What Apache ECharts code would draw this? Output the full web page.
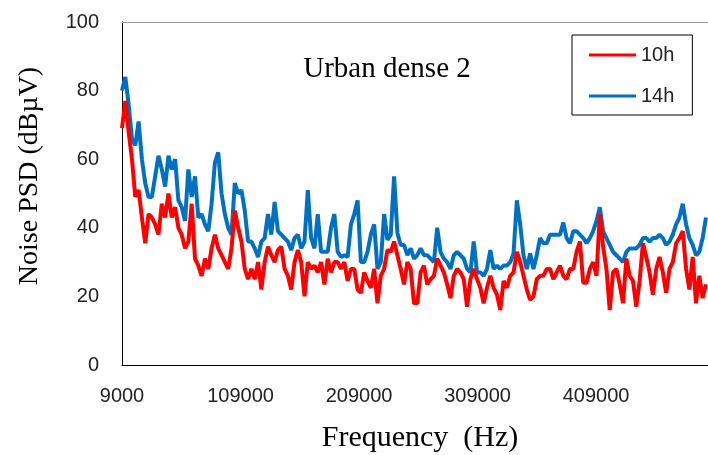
<!DOCTYPE html>
<html>
<head>
<meta charset="utf-8">
<script src="https://cdn.jsdelivr.net/npm/echarts@6/dist/echarts.min.js"></script>
<style>html,body{margin:0;padding:0;background:#fff;}#c{width:708px;height:455px;}</style>
</head>
<body>
<div id="c"></div>
<script>
// Sampling grid of the spectrum (Hz)
const FREQ_START = 9000;
const FREQ_STEP = 2800;
const X_TICK_STEP = 100000;
const Y_TICKS = [0, 20, 40, 60, 80, 100];
const seriesNames = ['10h', '14h'];
const chartTitle = 'Urban dense 2';

// Noise PSD (dBµV), 10h
const noise10h = [
  69, 77, 68, 60, 49, 51, 43, 35.5, 44, 43, 41, 38, 47, 43, 50, 43, 46, 40, 38, 34, 36, 47, 31, 29, 26, 31, 28, 34, 38, 34, 32, 30, 28, 34, 45, 40,
  36, 28, 25, 28, 25, 30, 22, 30, 34.5, 32, 30, 33.5, 34.5, 28, 26, 22, 30, 33.5, 30, 20, 30, 28, 29, 27, 30, 23.5, 31, 27, 30, 30, 28, 30, 24.5, 28, 28, 22,
  21, 27, 24.5, 22.5, 28, 18, 26, 28, 33.5, 33, 36, 32, 28, 23.5, 30, 28, 18, 18, 27, 29, 23.5, 25, 26, 31, 29, 27, 23.5, 19.5, 26, 28, 27, 25, 17, 25, 28, 25,
  22.5, 18, 22.5, 26, 22.5, 20.5, 16, 24.5, 22.5, 26, 27, 33, 30, 26, 22, 19, 20, 25, 26, 26, 28, 28, 25, 27, 29, 26, 25, 28, 28, 33, 36, 24, 24, 28, 30,
  26, 44, 34.5, 28, 16, 27, 28, 23.5, 18, 31, 26, 24.5, 17, 24.5, 35.5, 31.5, 27, 20.5, 28, 31.5, 27, 21, 28, 30, 35.5, 37, 39, 28, 22, 31.5, 18, 26, 19.5, 23.5
];

// Noise PSD (dBµV), 14h
const noise14h = [
  80, 84, 76, 66, 64, 71, 60, 53, 49, 49, 55, 61, 57, 52, 61, 57, 60, 48, 46, 42, 57, 49, 55, 43, 44, 41, 39, 47, 59, 62, 50, 44, 40, 38, 53, 50,
  51, 45, 36, 36, 34, 31.5, 36, 37, 44, 38, 47.5, 39, 38, 37, 36, 33.5, 37, 38, 34, 36, 51, 37, 34, 44, 33, 33, 33, 40, 44, 33, 31.5, 32, 31.5, 41, 44, 48,
  30, 30, 33, 38, 41, 28, 30, 44, 36.5, 38, 55, 38.5, 35, 35, 32, 34, 31, 32, 34, 32, 32, 31, 30, 40, 33, 31, 30, 28, 32, 33, 32, 31, 28, 27, 36, 27,
  27, 26, 28, 33.5, 28, 29, 28, 29, 29, 30, 32.5, 48, 41, 32, 28, 32.5, 28, 32, 37, 35.5, 35.5, 38, 38, 38, 38, 41.5, 37, 35.5, 39, 39, 38, 37, 35.5, 37, 39,
  42, 46, 39, 37, 35, 33, 32, 31, 30, 33, 34, 34, 34, 35, 37, 37, 36, 37, 37, 38, 37, 35, 36, 38, 41, 43, 47, 41, 37, 35, 32, 33, 37, 43
];

const freqs = noise10h.map((_, i) => FREQ_START + i * FREQ_STEP);
const X_MAX_OFFSET = 494500; // right edge of plot, offset from FREQ_START

const toPairs = arr => arr.map((v, i) => [freqs[i] - FREQ_START, v]);

const chart = echarts.init(document.getElementById('c'), null, {renderer: 'canvas'});
const tickFont = {fontFamily: 'Liberation Sans', fontSize: 20, color: '#222'};
const serif = 'Liberation Serif';

chart.setOption({
  animation: false,
  backgroundColor: '#fff',
  grid: {left: 122, right: 0, top: 22, bottom: 90},
  legend: {
    data: seriesNames,
    orient: 'vertical',
    left: 572, top: 35,
    padding: [10, 18, 9, 17],
    icon: 'rect',
    itemWidth: 47, itemHeight: 3, itemGap: 21,
    borderColor: '#000', borderWidth: 1,
    textStyle: {fontFamily: 'Liberation Sans', fontSize: 20, color: '#222'}
  },
  xAxis: [{
    type: 'value', min: 0, max: X_MAX_OFFSET, interval: X_TICK_STEP,
    axisLine: {show: true, lineStyle: {color: '#000', width: 1}},
    axisTick: {show: false},
    splitLine: {show: false},
    axisLabel: Object.assign({margin: 21, showMaxLabel: false, formatter: v => String(v + FREQ_START)}, tickFont)
  }, {
    type: 'value', position: 'top', min: 0, max: X_MAX_OFFSET,
    axisLine: {show: true, lineStyle: {color: '#9a9a9a', width: 1}},
    axisTick: {show: false}, axisLabel: {show: false}, splitLine: {show: false}
  }],
  yAxis: {
    type: 'value', min: Y_TICKS[0], max: Y_TICKS[Y_TICKS.length - 1], interval: Y_TICKS[1] - Y_TICKS[0],
    axisLine: {show: true, lineStyle: {color: '#000', width: 1}},
    axisTick: {show: false},
    splitLine: {show: false},
    axisLabel: Object.assign({margin: 23}, tickFont)
  },
  graphic: [
    {type: 'text', x: 387, y: 69, style: {text: chartTitle, fontFamily: serif, fontSize: 29, fill: '#000', align: 'center', verticalAlign: 'middle'}},
    {type: 'text', x: 420, y: 438, style: {text: 'Frequency  (Hz)', fontFamily: serif, fontSize: 30, fill: '#000', align: 'center', verticalAlign: 'middle'}},
    {type: 'text', x: 30, y: 176, rotation: Math.PI / 2, style: {text: 'Noise PSD (dBµV)', fontFamily: serif, fontSize: 28, fill: '#000', align: 'center', verticalAlign: 'middle'}}
  ],
  series: [
    {name: seriesNames[0], type: 'line', data: toPairs(noise10h), symbol: 'none', showSymbol: false, z: 4,
     lineStyle: {color: '#FF0000', width: 4}, itemStyle: {color: '#FF0000'}},
    {name: seriesNames[1], type: 'line', data: toPairs(noise14h), symbol: 'none', showSymbol: false, z: 3,
     lineStyle: {color: '#0070C0', width: 4}, itemStyle: {color: '#0070C0'}}
  ]
});
</script>
</body>
</html>
